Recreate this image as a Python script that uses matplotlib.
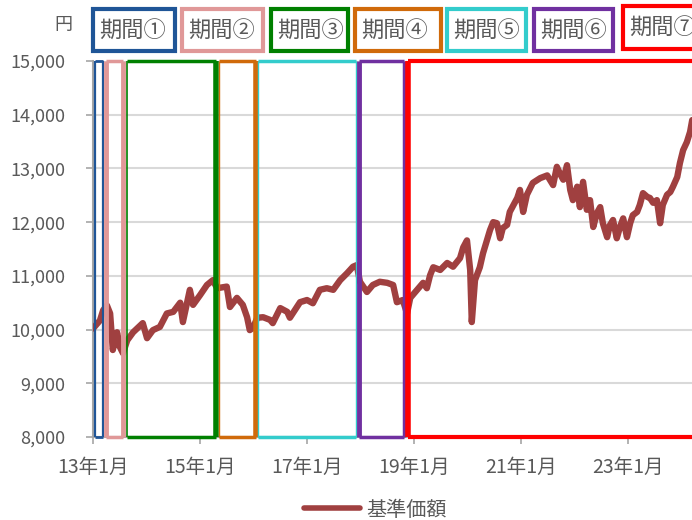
import matplotlib
matplotlib.use("Agg")
import matplotlib.pyplot as plt
from matplotlib.patches import Rectangle
from matplotlib.lines import Line2D

plt.rcParams['font.family'] = ['Noto Sans CJK JP', 'DejaVu Sans']

# ---- data ----
dates = [2013.00, 2013.13, 2013.19, 2013.26, 2013.32, 2013.37, 2013.45, 2013.50, 2013.56, 2013.64,
         2013.75, 2013.93, 2014.01, 2014.12, 2014.25, 2014.38, 2014.50, 2014.63, 2014.68, 2014.81,
         2014.87, 2015.00, 2015.13, 2015.24, 2015.32, 2015.50, 2015.56, 2015.69, 2015.80, 2015.88,
         2015.93, 2015.99, 2016.07, 2016.18, 2016.31, 2016.36, 2016.50, 2016.63, 2016.68, 2016.87,
         2017.00, 2017.11, 2017.24, 2017.37, 2017.49, 2017.62, 2017.75, 2017.86, 2017.93, 2017.99,
         2018.12, 2018.23, 2018.36, 2018.50, 2018.61, 2018.68, 2018.79, 2018.87, 2018.93, 2019.06,
         2019.17, 2019.24, 2019.30, 2019.36, 2019.49, 2019.62, 2019.73, 2019.86, 2019.92, 2019.99,
         2020.05, 2020.08, 2020.14, 2020.23, 2020.29, 2020.42, 2020.48, 2020.55, 2020.61, 2020.66,
         2020.74, 2020.79, 2020.93, 2020.98, 2021.04, 2021.11, 2021.22, 2021.36, 2021.49, 2021.60,
         2021.67, 2021.73, 2021.79, 2021.86, 2021.92, 2021.97, 2022.05, 2022.10, 2022.16, 2022.23,
         2022.29, 2022.35, 2022.42, 2022.48, 2022.53, 2022.61, 2022.66, 2022.72, 2022.79, 2022.85,
         2022.91, 2022.98, 2023.04, 2023.09, 2023.17, 2023.22, 2023.28, 2023.36, 2023.41, 2023.47,
         2023.54, 2023.60, 2023.65, 2023.73, 2023.79, 2023.84, 2023.92, 2023.97, 2024.03, 2024.10,
         2024.16, 2024.20]
nav = [10020, 10170, 10360, 10450, 10300, 9620, 9950, 9680, 9560, 9800,
       9950, 10120, 9840, 9990, 10050, 10300, 10330, 10500, 10140, 10740,
       10460, 10640, 10830, 10920, 10770, 10800, 10420, 10590, 10460, 10230,
       9990, 10030, 10220, 10230, 10180, 10120, 10400, 10330, 10220, 10510,
       10550, 10490, 10740, 10770, 10740, 10920, 11050, 11170, 11200, 10890,
       10700, 10830, 10890, 10870, 10830, 10510, 10550, 10300, 10590, 10740,
       10870, 10770, 11010, 11160, 11110, 11240, 11170, 11330, 11530, 11660,
       11110, 10140, 10920, 11160, 11420, 11850, 12000, 11980, 11700, 11890,
       11950, 12190, 12450, 12600, 12190, 12510, 12730, 12820, 12870, 12690,
       13030, 12900, 12790, 13060, 12600, 12410, 12660, 12280, 12750, 12230,
       12410, 11910, 12170, 12280, 11980, 11720, 11940, 12040, 11700, 11910,
       12070, 11720, 11980, 12130, 12190, 12320, 12540, 12470, 12450, 12360,
       12410, 11980, 12320, 12510, 12560, 12660, 12840, 13100, 13340, 13490,
       13680, 13900]

period_labels = ['期間①', '期間②', '期間③', '期間④', '期間⑤', '期間⑥', '期間⑦']
period_start = [2013.03, 2013.25, 2013.63, 2015.36, 2016.08, 2017.98, 2018.89]
period_end = [2013.19, 2013.56, 2015.29, 2016.04, 2017.92, 2018.82, 2024.60]
period_colors = ['#1F5597', '#E09898', '#008000', '#D06A0A', '#33CCCC', '#7030A0', '#FF0000']

xtick_pos = [2013, 2015, 2017, 2019, 2021, 2023]
xtick_labels = ['13年1月', '15年1月', '17年1月', '19年1月', '21年1月', '23年1月']
yticks = [8000, 9000, 10000, 11000, 12000, 13000, 14000, 15000]

series_name = '基準価額'
line_color = '#A04040'
text_color = '#595959'

# ---- figure ----
W, H = 692, 520
fig = plt.figure(figsize=(W / 100, H / 100), dpi=100)
ax = fig.add_axes([93 / W, 83 / H, 1 - 93 / W, 376 / H])

ax.plot(dates, nav, color=line_color, lw=4.6, solid_joinstyle='round',
        solid_capstyle='round', zorder=3)

# period boxes (styles: left/right edge widths)
left_lw = [1.6, 3.5, 1.2, 1.0, 1.0, 3.5, 4.0]
right_lw = [1.6, 3.5, 4.0, 4.0, 1.0, 2.5, 4.0]
top_lw = [2.0, 2.5, 2.5, 2.5, 2.5, 2.5, 3.0]
for s, e, c, ll, rl, tl in zip(period_start, period_end, period_colors, left_lw, right_lw, top_lw):
    ax.hlines([8000, 15000], s, e, colors=c, lw=tl, zorder=4, clip_on=False)
    ax.vlines(s, 8000, 15000, colors=c, lw=ll, zorder=4, clip_on=False)
    ax.vlines(e, 8000, 15000, colors=c, lw=rl, zorder=4, clip_on=False)

ax.set_xlim(2013, 2024.196)
ax.set_ylim(8000, 15000)
ax.set_yticks(yticks)
ax.set_yticklabels([f'{v:,}' for v in yticks])
ax.set_xticks(xtick_pos)
ax.set_xticklabels(xtick_labels)

ax.grid(axis='y', color='#D9D9D9', lw=1.5, zorder=0)
ax.set_axisbelow(True)
for sp in ['top', 'right']:
    ax.spines[sp].set_visible(False)
for sp in ['left', 'bottom']:
    ax.spines[sp].set_color('#A6A6A6')
    ax.spines[sp].set_linewidth(1.5)

ax.tick_params(axis='y', colors='#A6A6A6', labelcolor=text_color, labelsize=13,
               length=5, width=1.2, pad=15)
ax.tick_params(axis='x', colors='#A6A6A6', labelcolor=text_color, labelsize=14,
               length=5, width=1.2, pad=9)

# unit label
fig.text(63 / W, 1 - 25 / H, '円', ha='center', va='center', fontsize=13, color=text_color)

# period label boxes
box_left = [93, 182, 271, 355, 447, 534, 623]
box_right = [175, 263, 348, 441, 526, 613, 760]
for lab, c, x0, x1 in zip(period_labels, period_colors, box_left, box_right):
    top, bot = 9, 51
    if lab == '期間⑦':
        top, bot = 6, 49
    fig.add_artist(Rectangle((x0 / W, 1 - bot / H), (x1 - x0) / W, (bot - top) / H,
                             transform=fig.transFigure, fc='white', ec=c, lw=3))
    fig.text((x0 + 6) / W, 1 - ((top + bot) / 2 + 1) / H, lab, ha='left', va='center',
             fontsize=16, color=text_color)

# legend
handle = Line2D([], [], color=line_color, lw=4, solid_capstyle='round')
fig.legend([handle], [series_name], loc='center', bbox_to_anchor=(375 / W, 1 - 510 / H),
           frameon=False, fontsize=14.5, handlelength=2.8, handletextpad=0.3,
           labelcolor=text_color)

fig.savefig('out.png', dpi=100)
